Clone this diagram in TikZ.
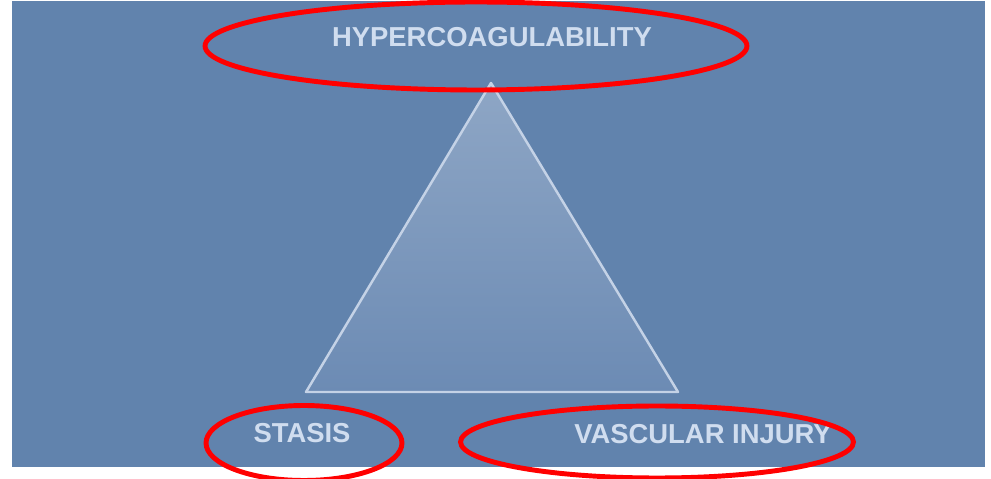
\documentclass[tikz,border=0pt]{standalone}
\usepackage{fontspec}
\setmainfont{Liberation Sans}
\usetikzlibrary{shapes,positioning,calc}
\definecolor{slideblue}{RGB}{97,131,173}
\definecolor{tritop}{RGB}{142,166,197}
\definecolor{tribottom}{RGB}{108,139,180}
\definecolor{triedge}{RGB}{196,210,230}
\definecolor{labeltext}{RGB}{208,221,239}
\definecolor{markred}{RGB}{255,0,0}

\begin{document}
\begin{tikzpicture}[x=0.02cm, y=-0.02cm,
    label/.style={font=\bfseries\fontsize{15.6}{18}\selectfont, text=labeltext, inner sep=0pt},
    ring/.style={ellipse, draw=markred, line width=2.8pt, inner sep=0pt}
]
\useasboundingbox (0,0) rectangle (991,479);
\clip (0,0) rectangle (991,479);

% slide background
\fill[slideblue] (12,1) rectangle (985,467);

% triangle
\coordinate (apex) at (491,83);
\coordinate (baseL) at (306,392);
\coordinate (baseR) at (678,392);
\shade[top color=tritop, bottom color=tribottom] (apex) -- (baseR) -- (baseL) -- cycle;
\draw[triedge, line width=1.4pt, line join=round] (apex) -- (baseR) -- (baseL) -- cycle;

% labels
\node[label] (hyper) at (492,37) {HYPERCOAGULABILITY};
\node[label] (stasis) at (302,433) {STASIS};
\node[label] (injury) at (703,434) {VASCULAR INJURY};

% red rings
\node[ring, minimum width=10.84cm, minimum height=1.76cm] (ring_hyper) at (476,46) {};
\node[ring, minimum width=3.92cm, minimum height=1.5cm] (ring_stasis) at (304,443) {};
\node[ring, minimum width=7.86cm, minimum height=1.44cm] (ring_injury) at (657,442) {};

\end{tikzpicture}
\end{document}
